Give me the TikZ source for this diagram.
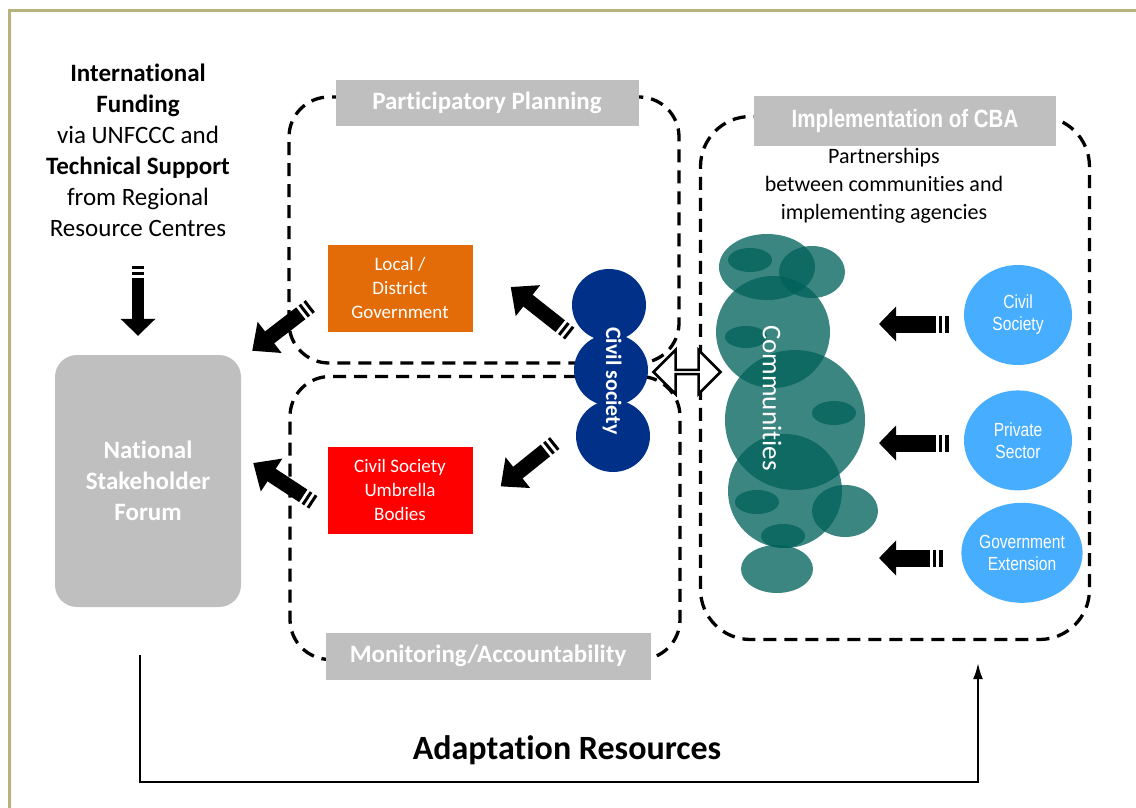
\documentclass[tikz,border=0pt]{standalone}
\usepackage{fontspec}
\setmainfont{Carlito}[Ligatures=NoCommon]
\newfontfamily\narrowfont[FakeStretch=0.82]{Liberation Sans}
\usetikzlibrary{positioning,arrows.meta,shapes.geometric,shapes.arrows,calc}

\definecolor{labelgray}{RGB}{191,191,191}
\definecolor{framegold}{RGB}{184,179,126}
\definecolor{govorange}{RGB}{227,108,9}
\definecolor{csblue}{RGB}{0,48,135}
\definecolor{partnerblue}{RGB}{71,173,255}
\definecolor{commteal}{RGB}{0,97,90}

\begin{document}
\begin{tikzpicture}[
    x=1pt, y=-1pt,
    groupbox/.style={draw, dash pattern=on 13pt off 8pt, line width=3.3pt, rounded corners=40pt},
    grouplabel/.style={fill=labelgray, text=white, font=\bfseries\fontsize{25}{30}\selectfont},
    actor/.style={rectangle, text=white, align=center, font=\fontsize{19}{24}\selectfont, minimum width=145pt, minimum height=87pt},
    partner/.style={ellipse, fill=partnerblue, text=white, align=center, inner sep=0pt,
        font=\narrowfont\fontsize{19}{22}\selectfont, minimum width=108pt, minimum height=100pt},
    csbubble/.style={ellipse, fill=csblue, minimum width=74pt, minimum height=72pt},
    blob/.style={fill=commteal, fill opacity=0.77},
    blockarrow/.style={line width=15pt, dash pattern=on 3pt off 3pt on 3pt off 3pt on 400pt,
        -{Triangle[width=38pt,length=22pt]}},
    feedarrow/.style={line width=17pt, dash pattern=on 4pt off 3pt on 3pt off 3pt on 400pt,
        -{Triangle[width=34pt,length=17pt]}},
    downarrow/.style={line width=12pt, dash pattern=on 3pt off 3pt on 3pt off 3pt on 400pt,
        -{Triangle[width=34pt,length=17pt]}},
    resline/.style={line width=2pt, -{Latex[width=10pt,length=16pt]}}
]
    \useasboundingbox (0,0) rectangle (1136,808);
    \draw[framegold, line width=3pt] (9,808) -- (9,11) -- (1136,11);

    % Groups
    \node[groupbox, minimum width=390pt, minimum height=266pt] (ppbox) at (484,230) {};
    \node[groupbox, minimum width=390pt, minimum height=283pt] (mabox) at (485,518) {};
    \node[groupbox, minimum width=389pt, minimum height=523pt, rounded corners=50pt] (cbabox) at (895,378) {};
    \node[grouplabel, minimum width=303pt, minimum height=46pt] (pplabel) at (487,103) {Participatory Planning};
    \node[grouplabel, minimum width=325pt, minimum height=47pt] (malabel) at (488,656) {Monitoring/Accountability};
    \node[grouplabel, font=\narrowfont\bfseries\fontsize{25}{30}\selectfont, minimum width=302pt, minimum height=49pt] (cbalabel) at (905,121) {Implementation of CBA};

    % Nodes
    \node[align=center, inner sep=0pt, font=\fontsize{25}{31}\selectfont] (intl) at (138,150)
        {\textbf{International}\\ \textbf{Funding}\\ via UNFCCC and\\ \textbf{Technical Support}\\ from Regional\\ Resource Centres};
    \node[rectangle, fill=labelgray, rounded corners=22pt, minimum width=186pt, minimum height=252pt,
        text=white, align=center, font=\bfseries\fontsize{25}{31}\selectfont] (nsf) at (148,481)
        {National\\ Stakeholder\\ Forum};
    \node[actor, fill=govorange] (lgov) at (400,288) {Local /\\ District\\ Government};
    \node[actor, fill=red, below=115pt of lgov] (umb) {Civil Society\\ Umbrella\\ Bodies};

    \node[csbubble] (cs1) at (609,305) {};
    \node[csbubble] (cs2) at (611,370) {};
    \node[csbubble] (cs3) at (613,436) {};
    \node[text=white, rotate=-90, font=\bfseries\fontsize{22}{26}\selectfont] (cstext) at (612,381) {Civil society};

    \node[double arrow, draw, line width=2.5pt, fill=white, inner sep=0pt, minimum height=67pt,
        minimum width=44pt, double arrow head extend=11pt] (link) at (687,372) {};

    \node[align=center, font=\fontsize{22}{28}\selectfont] (partnership) at (884,186)
        {Partnerships\\ between communities and\\ implementing agencies};

    % Communities
    \fill[blob] (767,267) ellipse [x radius=48, y radius=33];
    \fill[blob] (812,272) ellipse [x radius=33, y radius=26];
    \fill[blob] (773,332) ellipse [x radius=57, y radius=56];
    \fill[blob] (795,420) ellipse [x radius=70, y radius=70];
    \fill[blob] (785,491) ellipse [x radius=57, y radius=57];
    \fill[blob] (845,511) ellipse [x radius=33, y radius=26];
    \fill[blob] (777,569) ellipse [x radius=36, y radius=24];
    \fill[blob] (750,260) ellipse [x radius=22, y radius=12];
    \fill[blob] (746,337) ellipse [x radius=21, y radius=11];
    \fill[blob] (834,413) ellipse [x radius=22, y radius=12];
    \fill[blob] (757,502) ellipse [x radius=22, y radius=12];
    \fill[blob] (783,536) ellipse [x radius=22, y radius=12];
    \node[text=white, rotate=-90, font=\fontsize{27}{32}\selectfont] (comm) at (772,398) {Communities};

    \node[partner] (pcs) at (1018,315) {Civil\\ Society};
    \node[partner, below=25pt of pcs] (pps) {Private\\ Sector};
    \node[partner, below=12pt of pps, xshift=4pt] (pge) {Government\\ Extension};

    \node[font=\bfseries\fontsize{34}{40}\selectfont] (resources) at (567,750) {Adaptation Resources};

    % Connections
    \draw[downarrow, shorten <=29pt, shorten >=19pt] (intl.south) -- (intl.south |- nsf.north);
    \draw[blockarrow] ($(lgov.west)+(-17,18)$) -- ($(nsf.north east)+(11,-4)$);
    \draw[blockarrow] ($(umb.west)+(-14,12)$) -- ($(nsf.east)+(12,-18)$);
    \draw[blockarrow] ($(cs1.south west)+(-13,3)$) -- ($(lgov.east)+(38,-1)$);
    \draw[blockarrow] ($(cs3.west)+(-21,7)$) -- ($(umb.east)+(28,-4)$);

    \coordinate (in1) at (879,324);
    \coordinate (in2) at (879,443);
    \coordinate (in3) at (879,558);
    \draw[feedarrow, shorten <=15pt] (pcs.west |- in1) -- (in1);
    \draw[feedarrow, shorten <=15pt] (pps.west |- in2) -- (in2);
    \draw[feedarrow, shorten <=18pt] (pge.west |- in3) -- (in3);

    \coordinate (resstart) at ($(nsf.south)+(-8,48)$);
    \coordinate (resbend) at (140,782);
    \coordinate (resend) at ($(cbabox.south)+(83,22)$);
    \draw[resline] (resstart) -- (resbend) -| (resend);
\end{tikzpicture}
\end{document}
